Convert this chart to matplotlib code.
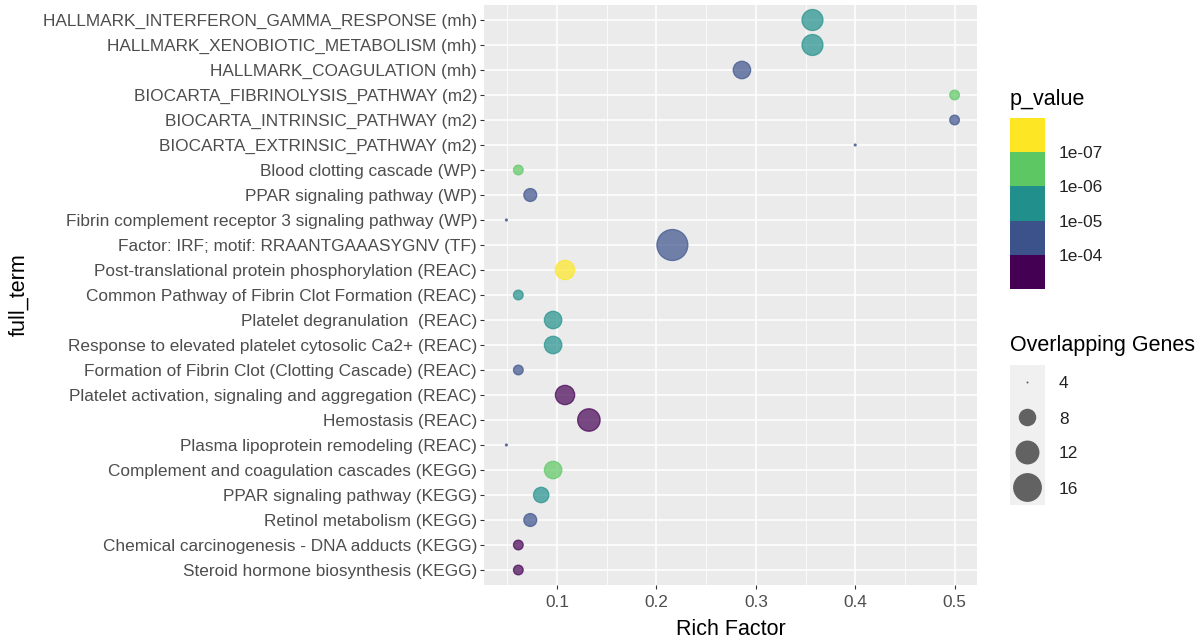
import numpy as np
import matplotlib
matplotlib.use("Agg")
import matplotlib.pyplot as plt
from matplotlib.colors import ListedColormap, BoundaryNorm
from matplotlib.cm import ScalarMappable

plt.rcParams['font.family'] = ['Liberation Sans', 'DejaVu Sans']

# terms, top to bottom as shown
terms = [
    "HALLMARK_INTERFERON_GAMMA_RESPONSE (mh)",
    "HALLMARK_XENOBIOTIC_METABOLISM (mh)",
    "HALLMARK_COAGULATION (mh)",
    "BIOCARTA_FIBRINOLYSIS_PATHWAY (m2)",
    "BIOCARTA_INTRINSIC_PATHWAY (m2)",
    "BIOCARTA_EXTRINSIC_PATHWAY (m2)",
    "Blood clotting cascade (WP)",
    "PPAR signaling pathway (WP)",
    "Fibrin complement receptor 3 signaling pathway (WP)",
    "Factor: IRF; motif: RRAANTGAAASYGNV (TF)",
    "Post-translational protein phosphorylation (REAC)",
    "Common Pathway of Fibrin Clot Formation (REAC)",
    "Platelet degranulation  (REAC)",
    "Response to elevated platelet cytosolic Ca2+ (REAC)",
    "Formation of Fibrin Clot (Clotting Cascade) (REAC)",
    "Platelet activation, signaling and aggregation (REAC)",
    "Hemostasis (REAC)",
    "Plasma lipoprotein remodeling (REAC)",
    "Complement and coagulation cascades (KEGG)",
    "PPAR signaling pathway (KEGG)",
    "Retinol metabolism (KEGG)",
    "Chemical carcinogenesis - DNA adducts (KEGG)",
    "Steroid hormone biosynthesis (KEGG)",
]
rich_factor = [0.357, 0.357, 0.286, 0.5, 0.5, 0.4, 0.061, 0.073, 0.049, 0.216,
               0.108, 0.061, 0.096, 0.096, 0.061, 0.108, 0.132, 0.049, 0.096,
               0.084, 0.073, 0.061, 0.061]
genes = [10, 10, 8, 5, 5, 4, 5, 6, 4, 18, 9, 5, 8, 8, 5, 9, 11, 4, 8, 7, 6, 5, 5]
p_value = [5e-06, 5e-06, 5e-05, 5e-07, 5e-05, 5e-05, 5e-07, 5e-05, 5e-05, 5e-05,
           5e-08, 5e-06, 5e-06, 5e-06, 5e-05, 3e-04, 3e-04, 5e-05, 5e-07,
           5e-06, 5e-05, 3e-04, 3e-04]

bin_edges = [1e-09, 1e-07, 1e-06, 1e-05, 1e-04, 1e-02]
bin_colors = ['#FDE725', '#5DC863', '#21908C', '#3B528B', '#440154']
cbar_ticks = [1e-07, 1e-06, 1e-05, 1e-04]
cbar_labels = ['1e-07', '1e-06', '1e-05', '1e-04']
size_breaks = [4, 8, 12, 16]

cmap = ListedColormap(bin_colors)
norm = BoundaryNorm(bin_edges, ncolors=5)

DPI = 100
gmin, gmax = min(genes), max(genes)


def marker_area(v):
    # ggplot-like area scale, diameter in pixels -> points^2
    d = 2 + 29 * np.sqrt((np.asarray(v, float) - gmin) / (gmax - gmin))
    return (d * 72 / DPI) ** 2


fig = plt.figure(figsize=(12.04, 6.41), dpi=DPI, facecolor='white')
ax = fig.add_axes([484 / 1204, 1 - 585 / 641, 493 / 1204, 580 / 641])
ax.set_facecolor('#EBEBEB')

n = len(terms)
ypos = n - np.arange(n)
cols = cmap(norm(p_value))
cols[:, 3] = 0.7
ax.scatter(rich_factor, ypos, s=marker_area(genes), c=cols, edgecolors=cols,
           linewidths=0.9, zorder=3)

lo, hi = min(rich_factor), max(rich_factor)
pad = (hi - lo) * 0.05
ax.set_xlim(lo - pad, hi + pad)
ax.set_ylim(0.4, n + 0.6)
ax.set_xticks([0.1, 0.2, 0.3, 0.4, 0.5])
ax.set_xticklabels(['0.1', '0.2', '0.3', '0.4', '0.5'])
ax.set_xticks(np.arange(0.05, 0.55, 0.1), minor=True)
ax.set_yticks(ypos)
ax.set_yticklabels(terms)
ax.grid(which='major', color='white', linewidth=1.1, zorder=1)
ax.grid(which='minor', axis='x', color='white', linewidth=0.55, zorder=1)
ax.set_axisbelow(True)
for sp in ax.spines.values():
    sp.set_visible(False)
ax.tick_params(which='major', length=3, width=0.8, color='#333333',
               labelcolor='#4D4D4D', labelsize=12.4, pad=2)
ax.tick_params(axis='x', which='major', pad=4)
ax.tick_params(which='minor', length=0)
ax.set_xlabel('Rich Factor', fontsize=15.5)
ax.set_ylabel('full_term', fontsize=15.5)
ax.xaxis.set_label_coords(0.5, -0.058)
ax.yaxis.set_label_coords(-0.922, 0.5)

# p_value colour steps
cax = fig.add_axes([1010 / 1204, 1 - 289 / 641, 35 / 1204, 171 / 641])
cb = fig.colorbar(ScalarMappable(norm=norm, cmap=cmap), cax=cax,
                  spacing='uniform', ticks=cbar_ticks)
cb.set_ticklabels(cbar_labels)
cb.outline.set_visible(False)
cax.minorticks_off()
cax.invert_yaxis()
cax.tick_params(which='both', length=0, labelsize=12.4, pad=10, labelcolor='#222222')
fig.text(1010 / 1204, 1 - 100 / 641, 'p_value', fontsize=15.5, va='center', ha='left')

# size legend
lax = fig.add_axes([1010 / 1204, 1 - 505 / 641, 35 / 1204, 140 / 641])
lax.set_facecolor('#F0F0F0')
ky = np.arange(len(size_breaks))[::-1] + 0.5
lax.scatter([0.5] * len(size_breaks), ky, s=marker_area(size_breaks),
            color='#333333', alpha=0.75, edgecolors='none')
lax.set_xlim(0, 1)
lax.set_ylim(0, len(size_breaks))
lax.set_xticks([])
lax.set_yticks(ky)
lax.set_yticklabels([str(b) for b in size_breaks])
lax.yaxis.tick_right()
lax.tick_params(length=0, labelsize=12.4, pad=10, labelcolor='#222222')
for sp in lax.spines.values():
    sp.set_visible(False)
fig.text(1010 / 1204, 1 - 345 / 641, 'Overlapping Genes', fontsize=15.5,
         va='center', ha='left')

fig.savefig('out.png', dpi=DPI, facecolor='white')
